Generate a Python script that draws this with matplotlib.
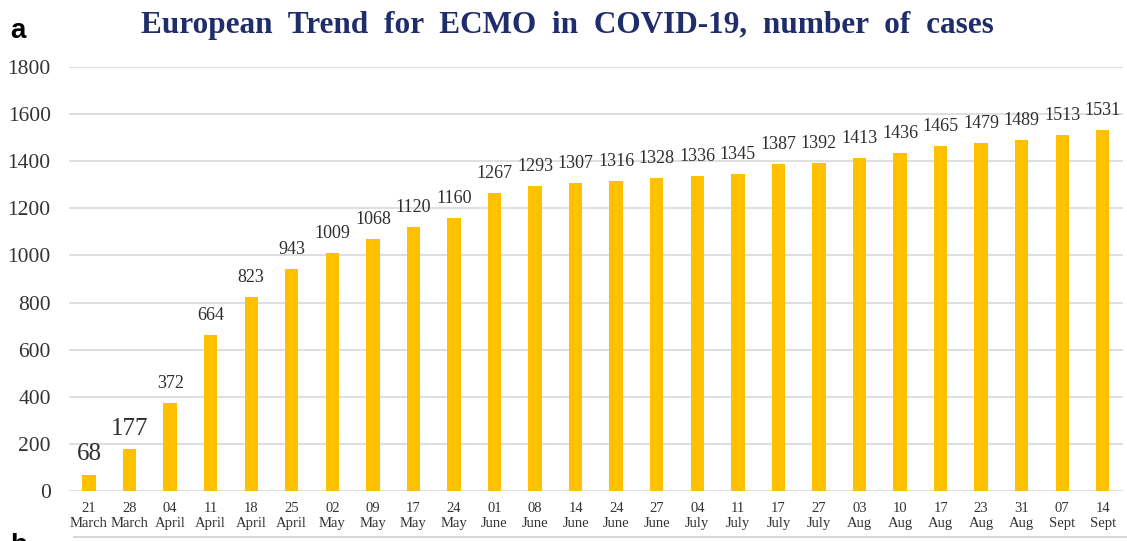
import numpy as np
import matplotlib.pyplot as plt

# data
days = ["21", "28", "04", "11", "18", "25", "02", "09", "17", "24", "01", "08", "14",
        "24", "27", "04", "11", "17", "27", "03", "10", "17", "23", "31", "07", "14"]
months = ["March", "March", "April", "April", "April", "April", "May", "May", "May", "May",
          "June", "June", "June", "June", "June", "July", "July", "July", "July",
          "Aug", "Aug", "Aug", "Aug", "Aug", "Sept", "Sept"]
cases = [68, 177, 372, 664, 823, 943, 1009, 1068, 1120, 1160, 1267, 1293, 1307,
         1316, 1328, 1336, 1345, 1387, 1392, 1413, 1436, 1465, 1479, 1489, 1513, 1531]

serif = ["Liberation Serif", "DejaVu Serif"]

fig = plt.figure(figsize=(11.27, 5.41), dpi=100)
ax = fig.add_axes([0.061, 0.0924, 0.9355, 0.7836])

x = np.arange(len(cases))
ax.bar(x, cases, width=0.33, color="#FFC000", zorder=3)

for i, v in enumerate(cases):
    big = i < 2
    ax.annotate(str(v), (x[i], v), xytext=(0, 7 if big else 8), textcoords="offset points",
                ha="center", va="bottom", family=serif, color="#2E2E2E",
                fontsize=18 if big else 13)

ax.set_xlim(-0.5, len(cases) - 0.5)
ax.set_ylim(0, 1800)
ax.set_yticks(np.arange(0, 1801, 200))
ax.set_xticks(x)
ax.set_xticklabels([d + "\n" + m for d, m in zip(days, months)], family=serif,
                   fontsize=10.5, color="#333333", linespacing=1.2)
for lab in ax.get_yticklabels():
    lab.set_family(serif)
    lab.set_fontsize(15.5)
    lab.set_color("#333333")
ax.tick_params(axis="both", length=0)
ax.tick_params(axis="y", pad=13)
ax.tick_params(axis="x", pad=8)
ax.yaxis.grid(True, color="#D9D9D9", linewidth=1.2, zorder=0)
for s in ax.spines.values():
    s.set_visible(False)

fig.text(0.503, 0.952, "European  Trend  for  ECMO  in  COVID-19,  number  of  cases",
         ha="center", va="center", family=serif, fontweight="bold", fontsize=22.5,
         color="#1F2D6B")
fig.text(0.009, 0.942, "a", ha="left", va="center", fontweight="bold", fontsize=20,
         family=["Liberation Sans", "DejaVu Sans"])
fig.text(0.009, -0.01, "b", ha="left", va="center", fontweight="bold", fontsize=20,
         family=["Liberation Sans", "DejaVu Sans"])
fig.add_artist(plt.Line2D([0.066, 1.0], [0.007, 0.007], color="#D0D0D0", linewidth=1.2))

plt.savefig("out.png")
